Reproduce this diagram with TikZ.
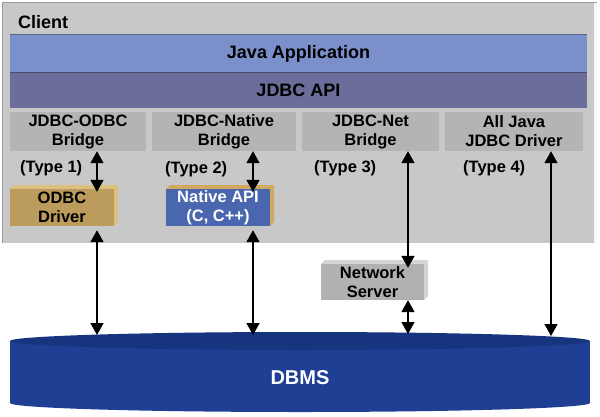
\documentclass[tikz,border=0pt]{standalone}
\usepackage{fontspec}
\setmainfont{Liberation Sans}
\usetikzlibrary{arrows.meta}
\definecolor{clientbg}{HTML}{C8C8C8}
\definecolor{clientedge}{HTML}{9A9A9A}
\definecolor{bridgebg}{HTML}{B4B4B4}
\definecolor{javabg}{HTML}{7B8FCB}
\definecolor{apibg}{HTML}{6B6D9A}
\definecolor{odbcfront}{HTML}{BB9C5C}
\definecolor{odbcface}{HTML}{DCC07F}
\definecolor{nativefront}{HTML}{4A66AE}
\definecolor{nativeface}{HTML}{D0A860}
\definecolor{netfront}{HTML}{B1B1B1}
\definecolor{netface}{HTML}{D4D4D4}
\definecolor{dbbody}{HTML}{1F3F95}
\definecolor{dbtop}{HTML}{17347F}
\tikzset{
  txt/.style={font=\bfseries\fontsize{16.5}{19}\selectfont, align=center, inner sep=0pt},
  bigtxt/.style={font=\bfseries\fontsize{18}{21}\selectfont, inner sep=0pt},
  bar/.style={rectangle, inner sep=0pt, font=\bfseries\fontsize{18}{21}\selectfont},
  bridgebox/.style={rectangle, fill=bridgebg, inner sep=0pt, minimum height=39pt, txt},
  frontbox/.style={rectangle, inner sep=0pt, minimum width=104pt, minimum height=37pt, txt},
  dbl/.style={{Triangle[width=13pt,length=12pt]}-{Triangle[width=13pt,length=12pt]}, line width=1.6pt, black}
}
\begin{document}
\begin{tikzpicture}[x=1pt,y=-1pt]
\useasboundingbox (0,0) rectangle (600,416);
\fill[white] (0,0) rectangle (600,416);
% client area
\node[rectangle, fill=clientbg, inner sep=0pt, minimum width=594pt, minimum height=240pt] (client) at (300,123) {};
\draw[clientedge, line width=1.2pt] (client.south west) -- (client.north west) -- (client.north east);
\fill[white!85!clientbg] ([xshift=-3pt]client.north east) rectangle (client.south east);
\node[bigtxt, anchor=west] (clientlbl) at (18,22) {Client};
% Java application and JDBC API bars
\node[bar, fill=javabg, minimum width=577pt, minimum height=38pt] (java) at (298.5,54) {Java Application};
\node[bar, fill=apibg, minimum width=577pt, minimum height=35pt] (api) at (298.5,90.5) {JDBC API};
\draw[javabg!70!black, line width=0.8pt] (java.north west) -- (java.north east);
\draw[apibg!70!black, line width=0.8pt] (api.north west) -- (api.north east);
% bridges
\node[bridgebox, minimum width=136pt] (b1) at (78,131.5) {JDBC-ODBC\\Bridge};
\node[bridgebox, minimum width=144pt] (b2) at (224,131.5) {JDBC-Native\\Bridge};
\node[bridgebox, minimum width=137pt] (b3) at (370.5,131.5) {JDBC-Net\\Bridge};
\node[bridgebox, minimum width=138pt] (b4) at (514,131.5) {All Java\\JDBC Driver};
% type labels
\node[txt, anchor=west] (t1) at (20,168) {(Type 1)};
\node[txt, anchor=west] (t2) at (165,169) {(Type 2)};
\node[txt, anchor=west] (t3) at (314,168) {(Type 3)};
\node[txt, anchor=west] (t4) at (463,168) {(Type 4)};
% ODBC driver
\fill[odbcface] (10,189) -- (14,185) -- (118,185) -- (118,222) -- (114,226) -- (114,189) -- cycle;
\node[frontbox, fill=odbcfront] (odbc) at (62,207.5) {ODBC\\Driver};
% Native API
\fill[nativeface] (166,189) -- (170,185) -- (274,185) -- (274,222) -- (270,226) -- (270,189) -- cycle;
\node[frontbox, fill=nativefront, text=white] (native) at (218,207.5) {Native API\\(C, C++)};
% Network server
\fill[netface] (321,264) -- (325,260) -- (428,260) -- (428,296) -- (424,300) -- (424,264) -- cycle;
\node[frontbox, minimum width=103pt, minimum height=36pt, fill=netfront] (net) at (372.5,282) {Network\\Server};
% DBMS cylinder
\fill[dbbody] (10,341) rectangle (590,403);
\fill[dbbody] (300,403) ellipse[x radius=290, y radius=9];
\fill[dbtop] (300,341) ellipse[x radius=290, y radius=9];
\node[font=\bfseries\fontsize{20}{24}\selectfont, text=white, inner sep=0pt] (dbms) at (300,378) {DBMS};
% arrow x positions and ends on DBMS
\coordinate (x1) at (97,0);
\coordinate (x2) at (253,0);
\coordinate (x3) at (408,0);
\coordinate (x4) at (551,0);
\coordinate (e1) at (97,335);
\coordinate (e2) at (253,335);
\coordinate (e3) at (408,334);
\coordinate (e4) at (551,336);
% connectors
\draw[dbl] (b1.south -| x1) -- ([yshift=-3pt]odbc.north -| x1);
\draw[dbl] (b2.south -| x2) -- ([yshift=-3pt]native.north -| x2);
\draw[dbl] ([yshift=-4pt]odbc.south -| x1) -- (e1);
\draw[dbl] ([yshift=-4pt]native.south -| x2) -- (e2);
\draw[dbl] (b3.south -| x3) -- ([yshift=-4pt]net.north -| x3);
\draw[dbl] (net.south -| x3) -- (e3);
\draw[dbl] (b4.south -| x4) -- (e4);
\end{tikzpicture}
\end{document}
